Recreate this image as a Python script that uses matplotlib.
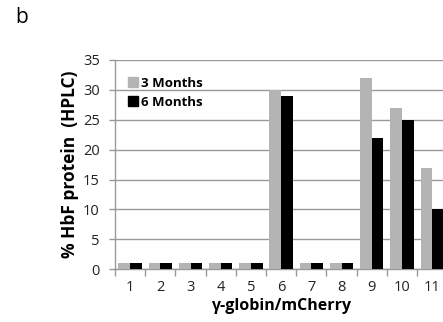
import matplotlib
matplotlib.use("Agg")
import matplotlib.pyplot as plt
import numpy as np
from matplotlib.patches import Patch

categories = ["1", "2", "3", "4", "5", "6", "7", "8", "9", "10", "11"]
months3 = [1, 1, 1, 1, 1, 30, 1, 1, 32, 27, 17]
months6 = [1, 1, 1, 1, 1, 29, 1, 1, 22, 25, 10]
yticks = [0, 5, 10, 15, 20, 25, 30, 35]

plt.rcParams['font.family'] = ['Open Sans', 'DejaVu Sans']

fig = plt.figure(figsize=(4.43, 3.22), dpi=100)
ax = fig.add_axes([0.2596, 0.1637, 0.750, 0.65])

x = np.arange(len(categories))
w = 0.385
grey = '#b4b4b4'
ax.bar(x - w/2, months3, width=w, color=grey, zorder=3, label='3 Months')
ax.bar(x + w/2, months6, width=w, color='black', zorder=3, label='6 Months')

ax.set_xlim(-0.5, len(categories) - 0.5)
ax.set_ylim(0, 35)
ax.set_yticks(yticks)
ax.yaxis.grid(True, color='#999999', linewidth=1.0, zorder=0)
ax.set_axisbelow(True)

ax.set_xticks(x)
ax.set_xticklabels(categories)
ax.set_xticks(np.arange(-0.5, len(categories) + 0.5, 1), minor=True)
ax.tick_params(axis='x', which='major', length=0, pad=8, labelsize=10.5, labelcolor='#222222')
ax.tick_params(axis='x', which='minor', length=5, color='#999999', width=1)
ax.tick_params(axis='y', length=4, color='#999999', width=1, labelsize=10.5, pad=7, labelcolor='#222222')

for s in ['top', 'right']:
    ax.spines[s].set_visible(False)
for s in ['left', 'bottom']:
    ax.spines[s].set_color('#999999')
    ax.spines[s].set_linewidth(1)

ax.set_ylabel('% HbF protein  (HPLC)', fontsize=12.5, fontweight='bold', labelpad=3)
ax.set_xlabel('γ-globin/mCherry', fontsize=11.5, fontweight='bold', labelpad=2)

handles = [Patch(color=grey), Patch(color='black')]
leg = ax.legend(handles, ['3 Months', '6 Months'], loc='upper left',
                bbox_to_anchor=(0.022, 0.945), frameon=False,
                prop={'weight': 'bold', 'size': 9.5},
                handlelength=0.8, handleheight=0.8, handletextpad=0.2,
                labelspacing=0.45, borderaxespad=0)

fig.text(0.035, 0.945, 'b', fontsize=15, ha='left', va='center')

fig.savefig('out.png', dpi=100)
